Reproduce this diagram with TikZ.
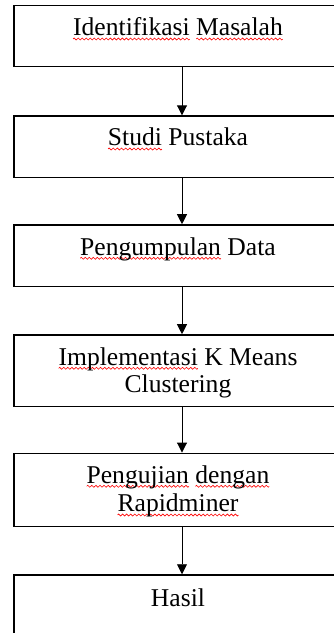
\documentclass[tikz,border=0pt]{standalone}
\usepackage{fontspec}
\setmainfont{Liberation Serif}
\usetikzlibrary{arrows.meta}
\newsavebox\wavebox
\newcommand\sqw[1]{\leavevmode\setbox0\hbox{#1}\rlap{\lower3.3pt\hbox to\wd0{\xleaders\copy\wavebox\hfill}}\box0\relax}
\begin{document}
\sbox\wavebox{\begin{pgfpicture}
  \pgfpathmoveto{\pgfpoint{0pt}{0pt}}
  \pgfpathsine{\pgfpoint{1pt}{1pt}}
  \pgfpathcosine{\pgfpoint{1pt}{-1pt}}
  \pgfpathsine{\pgfpoint{1pt}{-1pt}}
  \pgfpathcosine{\pgfpoint{1pt}{1pt}}
  \pgfsetlinewidth{0.6pt}
  \pgfsetstrokecolor{red}
  \pgfusepath{stroke}
  \pgfresetboundingbox
  \pgfpathrectanglecorners{\pgfpoint{0pt}{0pt}}{\pgfpoint{4pt}{0pt}}
  \pgfusepath{use as bounding box}
\end{pgfpicture}}%
\begin{tikzpicture}[x=1pt,y=-1pt,
  box/.style={draw=black, line width=1.5pt, minimum width=328pt, inner sep=0pt, rectangle},
  txt/.style={font=\fontsize{25.6}{28}\selectfont, anchor=base, inner sep=0pt},
  arr/.style={line width=0.9pt, -{Triangle[length=10pt,width=10pt]}}]
\clip (0,0) rectangle (334,633);
\node[box, minimum height=61.4pt] (b1) at (178,36) {};
\node[box, minimum height=61.3pt] (b2) at (178,146.7) {};
\node[box, minimum height=61.7pt] (b3) at (178,255.8) {};
\node[box, minimum height=71.7pt] (b4) at (178,370.8) {};
\node[box, minimum height=73.4pt] (b5) at (178,490) {};
\node[box, minimum height=65pt] (b6) at (178,607.5) {};
\node[txt] (t1) at (178,35.7) {\sqw{Identifikasi} \sqw{Masalah}};
\node[txt] (t2) at (178,145.7) {\sqw{Studi} Pustaka};
\node[txt] (t3) at (178,255) {\sqw{Pengumpulan} Data};
\node[txt] (t4a) at (178,365) {\sqw{Implementasi} K Means};
\node[txt] (t4b) at (178,392.7) {Clustering};
\node[txt] (t5a) at (178,483) {\sqw{Pengujian} \sqw{dengan}};
\node[txt] (t5b) at (178,511.7) {\sqw{Rapidminer}};
\node[txt] (t6) at (178,606) {Hasil};
\draw[arr] ([xshift=4pt]b1.south) -- ([xshift=4pt]b2.north);
\draw[arr] ([xshift=4pt]b2.south) -- ([xshift=4pt]b3.north);
\draw[arr] ([xshift=4pt]b3.south) -- ([xshift=4pt]b4.north);
\draw[arr] ([xshift=4pt]b4.south) -- ([xshift=4pt]b5.north);
\draw[arr] ([xshift=4pt]b5.south) -- ([xshift=4pt]b6.north);
\end{tikzpicture}
\end{document}
